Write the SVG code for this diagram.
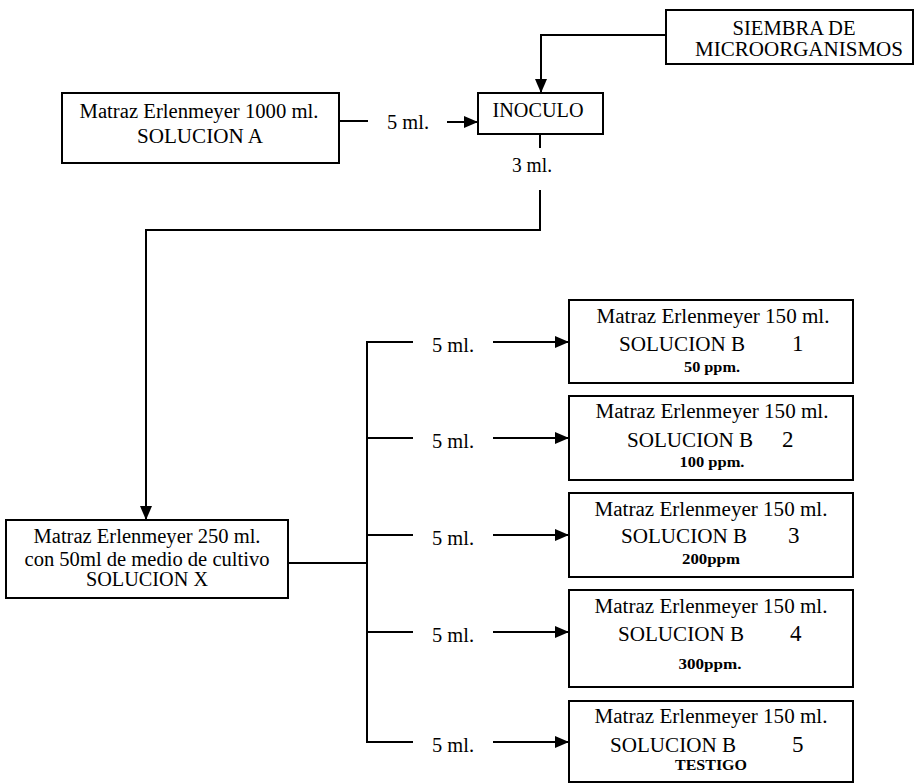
<svg xmlns="http://www.w3.org/2000/svg" width="916" height="783" viewBox="0 0 916 783">
<defs>
<marker id="arr" markerUnits="userSpaceOnUse" markerWidth="14" markerHeight="12" refX="14" refY="6" orient="auto">
<path d="M0,0 L14,6 L0,12 Z" fill="#000"/>
</marker>
<style>
.box{fill:#fff;stroke:#000;stroke-width:2}
.ln{fill:none;stroke:#000;stroke-width:2}
.t{font-family:"Liberation Serif","Times New Roman",serif;font-size:20px;fill:#000}
.c{text-anchor:middle}
.n{font-size:23px}
.p{font-size:15px;font-weight:bold;text-anchor:middle}
</style>
</defs>
<rect width="916" height="783" fill="#fff"/>
<g id="connectors">
<polyline class="ln" points="666,35 541,35 541,93" marker-end="url(#arr)"/>
<line class="ln" x1="339" y1="121" x2="368" y2="121"/>
<line class="ln" x1="447" y1="122" x2="478" y2="122" marker-end="url(#arr)"/>
<line class="ln" x1="540" y1="134" x2="540" y2="148"/>
<polyline class="ln" points="540,190 540,230 146,230 146,520" marker-end="url(#arr)"/>
<line class="ln" x1="288" y1="563" x2="367" y2="563"/>
<line class="ln" x1="367" y1="342" x2="367" y2="742"/>
<line class="ln" x1="366" y1="342" x2="413" y2="342"/>
<line class="ln" x1="366" y1="438" x2="413" y2="438"/>
<line class="ln" x1="366" y1="535" x2="413" y2="535"/>
<line class="ln" x1="366" y1="632" x2="413" y2="632"/>
<line class="ln" x1="366" y1="742" x2="413" y2="742"/>
<line class="ln" x1="493" y1="342" x2="569" y2="342" marker-end="url(#arr)"/>
<line class="ln" x1="493" y1="438" x2="569" y2="438" marker-end="url(#arr)"/>
<line class="ln" x1="493" y1="535" x2="569" y2="535" marker-end="url(#arr)"/>
<line class="ln" x1="493" y1="632" x2="569" y2="632" marker-end="url(#arr)"/>
<line class="ln" x1="493" y1="742" x2="569" y2="742" marker-end="url(#arr)"/>
<text class="t c" x="408" y="129" textLength="42" lengthAdjust="spacingAndGlyphs">5 ml.</text>
<text class="t c" x="532" y="172" textLength="40" lengthAdjust="spacingAndGlyphs">3 ml.</text>
<text class="t c" x="453" y="352" textLength="42" lengthAdjust="spacingAndGlyphs">5 ml.</text>
<text class="t c" x="453" y="448" textLength="42" lengthAdjust="spacingAndGlyphs">5 ml.</text>
<text class="t c" x="453" y="545" textLength="42" lengthAdjust="spacingAndGlyphs">5 ml.</text>
<text class="t c" x="453" y="642" textLength="42" lengthAdjust="spacingAndGlyphs">5 ml.</text>
<text class="t c" x="453" y="752" textLength="42" lengthAdjust="spacingAndGlyphs">5 ml.</text>
</g>
<g id="siembra">
<rect class="box" x="666" y="10" width="247" height="54"/>
<text class="t c" x="794" y="35" textLength="123" lengthAdjust="spacingAndGlyphs">SIEMBRA DE</text>
<text class="t c" x="799" y="56" textLength="208" lengthAdjust="spacingAndGlyphs">MICROORGANISMOS</text>
</g>
<g id="matraz1000">
<rect class="box" x="62" y="93" width="277" height="70"/>
<text class="t c" x="199" y="118" textLength="239" lengthAdjust="spacingAndGlyphs">Matraz Erlenmeyer 1000 ml.</text>
<text class="t c" x="200" y="143" textLength="126" lengthAdjust="spacingAndGlyphs">SOLUCION A</text>
</g>
<g id="inoculo">
<rect class="box" x="478" y="93" width="125" height="41"/>
<text class="t c" x="538" y="117" textLength="91" lengthAdjust="spacingAndGlyphs">INOCULO</text>
</g>
<g id="matraz250">
<rect class="box" x="6" y="520" width="282" height="78"/>
<text class="t c" x="147" y="543" textLength="227" lengthAdjust="spacingAndGlyphs">Matraz Erlenmeyer 250 ml.</text>
<text class="t c" x="147" y="566" textLength="245" lengthAdjust="spacingAndGlyphs">con 50ml de medio de cultivo</text>
<text class="t c" x="147" y="586" textLength="122" lengthAdjust="spacingAndGlyphs">SOLUCION X</text>
</g>
<g id="solB1">
<rect class="box" x="569" y="300" width="284" height="83"/>
<text class="t c" x="713" y="323" textLength="233" lengthAdjust="spacingAndGlyphs">Matraz Erlenmeyer 150 ml.</text>
<text class="t" x="619" y="351" textLength="126" lengthAdjust="spacingAndGlyphs">SOLUCION B</text>
<text class="t n" x="792" y="351">1</text>
<text class="t p" x="712" y="372" textLength="56" lengthAdjust="spacingAndGlyphs">50 ppm.</text>
</g>
<g id="solB2">
<rect class="box" x="569" y="396" width="284" height="84"/>
<text class="t c" x="712" y="418" textLength="233" lengthAdjust="spacingAndGlyphs">Matraz Erlenmeyer 150 ml.</text>
<text class="t" x="627" y="447" textLength="126" lengthAdjust="spacingAndGlyphs">SOLUCION B</text>
<text class="t n" x="782" y="447">2</text>
<text class="t p" x="712" y="467" textLength="65" lengthAdjust="spacingAndGlyphs">100 ppm.</text>
</g>
<g id="solB3">
<rect class="box" x="569" y="493" width="284" height="84"/>
<text class="t c" x="711" y="516" textLength="233" lengthAdjust="spacingAndGlyphs">Matraz Erlenmeyer 150 ml.</text>
<text class="t" x="621" y="543" textLength="126" lengthAdjust="spacingAndGlyphs">SOLUCION B</text>
<text class="t n" x="788" y="543">3</text>
<text class="t p" x="711" y="564" textLength="58" lengthAdjust="spacingAndGlyphs">200ppm</text>
</g>
<g id="solB4">
<rect class="box" x="569" y="590" width="284" height="97"/>
<text class="t c" x="711" y="613" textLength="233" lengthAdjust="spacingAndGlyphs">Matraz Erlenmeyer 150 ml.</text>
<text class="t" x="618" y="641" textLength="126" lengthAdjust="spacingAndGlyphs">SOLUCION B</text>
<text class="t n" x="790" y="641">4</text>
<text class="t p" x="710" y="669" textLength="63" lengthAdjust="spacingAndGlyphs">300ppm.</text>
</g>
<g id="solB5">
<rect class="box" x="569" y="701" width="284" height="81"/>
<text class="t c" x="711" y="723" textLength="233" lengthAdjust="spacingAndGlyphs">Matraz Erlenmeyer 150 ml.</text>
<text class="t" x="610" y="752" textLength="126" lengthAdjust="spacingAndGlyphs">SOLUCION B</text>
<text class="t n" x="792" y="752">5</text>
<text class="t p" x="711" y="770" textLength="72" lengthAdjust="spacingAndGlyphs">TESTIGO</text>
</g>
</svg>
